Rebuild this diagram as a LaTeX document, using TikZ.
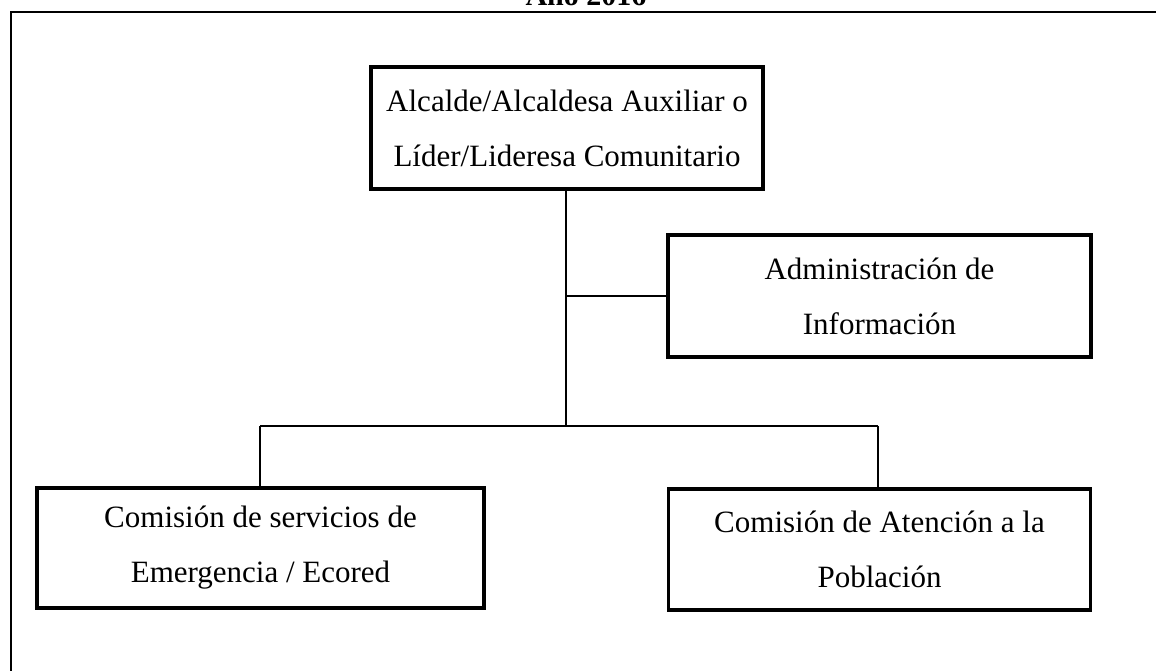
\documentclass[tikz,border=0pt]{standalone}
\usepackage{fontspec}
\setmainfont{Liberation Serif}
\begin{document}
\begin{tikzpicture}[x=1pt,y=1pt,
  orgbox/.style={draw, line width=3.2pt, align=center, inner sep=0pt,
    font=\fontsize{31}{55}\selectfont},
  conn/.style={line width=1.5pt},
  frame/.style={line width=2pt}]
\useasboundingbox (0,0) rectangle (1156,671);
% outer frame (partial)
\coordinate (fl) at (11,0);
\coordinate (ftl) at (11,658.5);
\coordinate (ftr) at (1160,658.5);
\draw[frame] (fl) -- (ftl) -- (ftr);
\node[anchor=base, font=\bfseries\fontsize{30}{36}\selectfont] (title) at (586,665) {Año 2016};
% boxes
\node[orgbox, minimum width=392, minimum height=122] (top) at (567,543)
  {Alcalde/Alcaldesa Auxiliar o\\Líder/Lideresa Comunitario};
\node[orgbox, minimum width=423, minimum height=122] (admin) at (879.5,375)
  {Administración de\\Información};
\node[orgbox, minimum width=447, minimum height=120] (left) at (260.5,123)
  {Comisión de servicios de\\Emergencia / Ecored};
\node[orgbox, minimum width=422, minimum height=121] (right) at (879.5,121.5)
  {Comisión de Atención a la\\Población};
% connectors
\coordinate (bus) at (566,245);
\coordinate (busL) at (260,245);
\coordinate (busR) at (878,245);
\coordinate (adm) at (566,375);
\draw[conn] (top.south -| bus) -- (bus);
\draw[conn] (adm) -- (admin.west);
\draw[conn] (busL) -- (busR);
\draw[conn] (busL) -- (busL |- left.north);
\draw[conn] (busR) -- (busR |- right.north);
\end{tikzpicture}
\end{document}
